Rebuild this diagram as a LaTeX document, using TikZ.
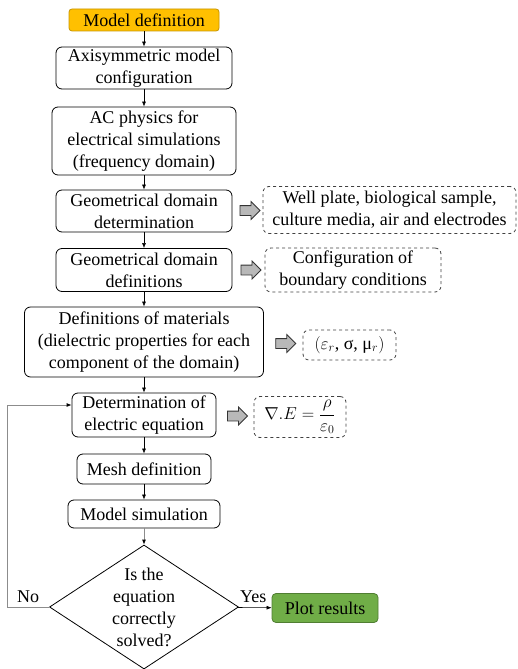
\documentclass[tikz,border=0pt]{standalone}
\usepackage{fontspec}
\setmainfont{Liberation Serif}
\usetikzlibrary{shapes.geometric,shapes.arrows,arrows.meta,calc}
\definecolor{modelorange}{HTML}{FFC000}
\definecolor{modelorangedark}{HTML}{C79500}
\definecolor{plotgreen}{HTML}{70AD47}
\definecolor{plotgreendark}{HTML}{507E32}
\tikzstyle{block}=[draw,rounded corners=6pt,line width=0.8pt,align=center,inner sep=0pt]
\tikzstyle{sidebox}=[draw=black!75,dashed,rounded corners=6pt,line width=0.8pt,align=center,inner sep=0pt]
\tikzstyle{hollow}=[single arrow,draw=black!80,fill=black!28,line width=0.8pt,inner sep=4.5pt,single arrow head extend=4pt,minimum height=20pt]
\tikzstyle{edge}=[draw,line width=0.6pt,-{Latex[length=5pt,width=4pt]}]
\tikzstyle{greyedge}=[draw=black!45,line width=0.8pt,-{Latex[length=5pt,width=4pt,color=black]}]

\begin{document}
\begin{tikzpicture}[x=1pt,y=-1pt,font=\fontsize{18}{22}\selectfont]
    \useasboundingbox (0,0) rectangle (518,669);

    % First we draw the main blocks
    \foreach \pos/\name/\w/\h/\txt in {
        {(144,68)/axi/176/42/{Axisymmetric model\\configuration}},
        {(144,141)/acp/184/68/{AC physics for\\electrical simulations\\(frequency domain)}},
        {(144,211)/geodet/176/42/{Geometrical domain\\determination}},
        {(144,270)/geodef/176/43/{Geometrical domain\\definitions}},
        {(144,342)/mat/239/70/{Definitions of materials\\(dielectric properties for each\\component of the domain)}},
        {(144,415)/deter/144/44/{Determination of\\electric equation}},
        {(144,469)/mesh/134/30/{Mesh definition}},
        {(144,514)/simul/152/28/{Model simulation}}}
        \node[block,minimum width=\w pt,minimum height=\h pt] (\name) at \pos {\txt};

    \node[block,fill=modelorange,draw=modelorangedark,rounded corners=3pt,minimum width=150pt,minimum height=22pt] (model) at (144,20) {Model definition};
    \node[diamond,draw,line width=0.8pt,align=center,inner sep=-2pt,aspect=1.52,minimum width=189pt,minimum height=124pt] (check) at (144,607) {Is the\\equation\\correctly\\solved?};
    \node[block,fill=plotgreen,draw=plotgreendark,rounded corners=4pt,minimum width=106pt,minimum height=29pt] (plot) at (325,608) {Plot results};

    % Then the dashed boxes on the right
    \foreach \pos/\name/\w/\h/\txt in {
        {(389.5,210)/wellbox/253/47/{Well plate, biological sample,\\culture media, air and electrodes}},
        {(353,270)/bcbox/176/44/{Configuration of\\boundary conditions}},
        {(349.5,345)/epsbox/93/30/{$(\varepsilon_r$, σ, μ$_r)$}},
        {(300,417)/eqbox/92/41/{$\nabla . E = {\displaystyle\frac{\rho}{\varepsilon_0}}$}}}
        \node[sidebox,minimum width=\w pt,minimum height=\h pt] (\name) at \pos {\txt};

    % Hollow arrows between blocks and boxes
    \foreach \source/\dest in {geodet/wellbox, geodef/bcbox, mat/epsbox, deter/eqbox}
        \node[hollow] at ($(\source.east)!0.5!(\dest.west)$) {};

    % Connect blocks with edges
    \foreach \source/\dest in {model/axi, axi/acp, acp/geodet, geodet/geodef, geodef/mat, mat/deter, deter/mesh, mesh/simul}
        \path[edge] (\source) -- (\dest);
    \path[greyedge] (simul) -- (check);
    \path[edge] (check) -- node[above=1pt,pos=0.45] {Yes} (plot);
    \path[greyedge] (check.west) -- node[above=1pt,text=black] {No} ++(-42,0) |- ([yshift=10pt]deter.west);
\end{tikzpicture}
\end{document}
